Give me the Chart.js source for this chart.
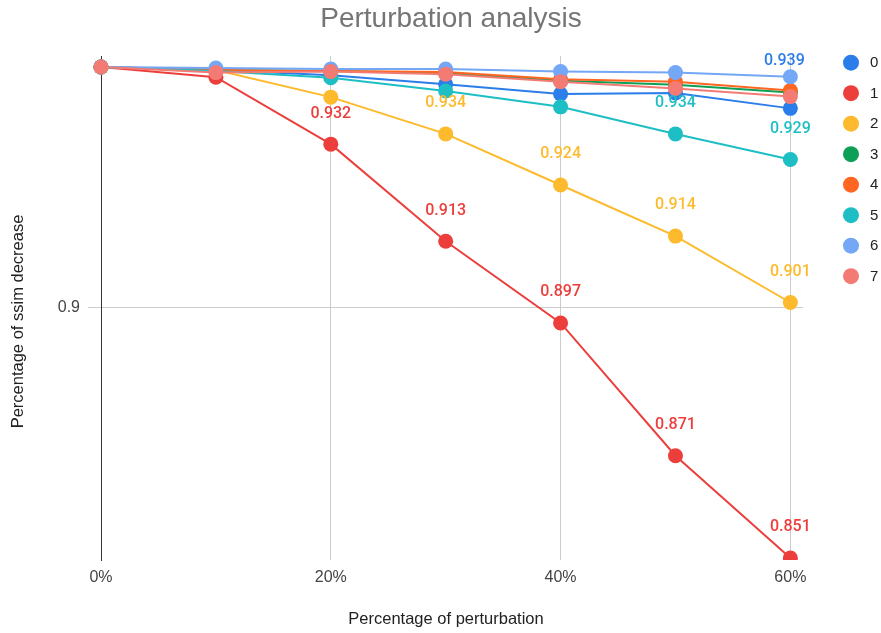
<!DOCTYPE html>
<html>
<head>
<meta charset="utf-8">
<style>
  html, body { margin: 0; padding: 0; background: #ffffff; }
  #wrap { width: 881px; height: 633px; }
</style>
<script src="https://cdn.jsdelivr.net/npm/chart.js@4.4.0/dist/chart.umd.min.js"></script>
</head>
<body>
<div id="wrap"><canvas id="chart" width="881" height="633"></canvas></div>
<script>
// Perturbation levels (fraction of input perturbed)
const perturbation = [0, 0.1, 0.2, 0.3, 0.4, 0.5, 0.6];

// SSIM per model
const seriesNames = ['0', '1', '2', '3', '4', '5', '6', '7'];
const ssim0 = [0.9471, 0.9465, 0.9455, 0.9437, 0.9418, 0.9420, 0.939];
const ssim1 = [0.9471, 0.9451, 0.932, 0.913, 0.897, 0.871, 0.851];
const ssim2 = [0.9471, 0.9465, 0.9412, 0.934, 0.924, 0.914, 0.901];
const ssim3 = [0.9471, 0.9465, 0.9463, 0.9459, 0.9444, 0.9436, 0.9421];
const ssim4 = [0.9471, 0.9465, 0.9463, 0.9461, 0.9447, 0.9442, 0.9425];
const ssim5 = [0.9471, 0.9463, 0.9450, 0.9424, 0.9393, 0.934, 0.929];
const ssim6 = [0.9471, 0.9469, 0.9467, 0.9467, 0.9462, 0.9460, 0.9452];
const ssim7 = [0.9471, 0.9460, 0.9462, 0.9457, 0.9442, 0.9429, 0.9413];
const seriesValues = [ssim0, ssim1, ssim2, ssim3, ssim4, ssim5, ssim6, ssim7];

// Axis ticks
const xTicks = [0, 0.2, 0.4, 0.6];
const yTicks = [0.9];

const colors = ['#2B7DE9', '#EC3F3C', '#FDBA2C', '#0E9F57', '#FF6621', '#1DBEC4', '#74A7F6', '#F47B74'];

// Points that carry a value label (series index -> point indices)
const labelledPoints = { 0: [6], 1: [2, 3, 4, 5, 6], 2: [3, 4, 5, 6], 5: [5, 6] };
// Extra offsets for labels that would collide with neighbouring markers
const labelNudge = { '0:6': { dx: -6, dy: -16.8 } };

const SANS = '"Liberation Sans", Arial, sans-serif';

const datasets = seriesValues.map((vals, i) => ({
  label: seriesNames[i],
  data: vals.map((v, k) => ({ x: perturbation[k], y: v })),
  borderColor: colors[i],
  backgroundColor: colors[i],
  pointBackgroundColor: colors[i],
  pointBorderWidth: 0,
  pointRadius: 7.5,
  pointHoverRadius: 7.5,
  borderWidth: 2,
  tension: 0,
  order: seriesValues.length - 1 - i,
  clip: { left: 12, top: 12, right: 12, bottom: 0 }
}));

const textLayer = {
  id: 'textLayer',
  afterDatasetsDraw(chart) {
    const ctx = chart.ctx;
    ctx.save();
    ctx.font = '500 16px Roboto, sans-serif';
    ctx.textAlign = 'center';
    ctx.textBaseline = 'middle';
    Object.keys(labelledPoints).forEach(key => {
      const ds = Number(key);
      const meta = chart.getDatasetMeta(ds);
      labelledPoints[key].forEach(idx => {
        const el = meta.data[idx];
        const nudge = labelNudge[ds + ':' + idx] || { dx: 0, dy: 0 };
        ctx.fillStyle = colors[ds];
        ctx.fillText(seriesValues[ds][idx].toFixed(3), el.x + nudge.dx, el.y - 30.6 + nudge.dy);
      });
    });
    ctx.restore();
  },
  afterDraw(chart) {
    const ctx = chart.ctx;
    ctx.save();
    ctx.textBaseline = 'middle';

    // Chart title
    ctx.textAlign = 'center';
    ctx.fillStyle = '#757575';
    ctx.font = '28px ' + SANS;
    ctx.fillText('Perturbation analysis', 451, 19);

    // Axis titles
    ctx.fillStyle = '#222222';
    ctx.font = '16.5px ' + SANS;
    ctx.fillText('Percentage of perturbation', 446, 619);
    ctx.save();
    ctx.translate(18.5, 321.5);
    ctx.rotate(-Math.PI / 2);
    ctx.fillText('Percentage of ssim decrease', 0, 0);
    ctx.restore();

    // Legend
    ctx.textAlign = 'left';
    ctx.font = '15px ' + SANS;
    seriesNames.forEach((name, i) => {
      const cy = 62.7 + 30.5 * i;
      ctx.beginPath();
      ctx.arc(851, cy, 8, 0, Math.PI * 2);
      ctx.fillStyle = colors[i];
      ctx.fill();
      ctx.fillStyle = '#222222';
      ctx.fillText(name, 870, cy + 0.5);
    });
    ctx.restore();
  }
};

new Chart(document.getElementById('chart'), {
  type: 'line',
  data: { datasets },
  plugins: [textLayer],
  options: {
    responsive: false,
    animation: false,
    devicePixelRatio: 1,
    events: [],
    layout: { padding: { left: 0, right: 78, top: 56, bottom: 0 } },
    plugins: {
      legend: { display: false },
      title: { display: false },
      tooltip: { enabled: false }
    },
    scales: {
      x: {
        type: 'linear',
        min: 0,
        max: 0.611,
        afterFit(scale) { scale.height = 73; },
        afterBuildTicks(scale) { scale.ticks = xTicks.map(v => ({ value: v })); },
        ticks: {
          callback: v => Math.round(v * 100) + '%',
          font: { family: SANS, size: 16 },
          color: '#444444',
          padding: 8.4,
          maxRotation: 0,
          autoSkip: false
        },
        grid: { color: '#cccccc', drawTicks: false },
        border: { display: false }
      },
      y: {
        type: 'linear',
        min: 0.8506,
        max: 0.94925,
        afterFit(scale) { scale.width = 101; },
        afterBuildTicks(scale) { scale.ticks = yTicks.map(v => ({ value: v })); },
        ticks: {
          callback: v => String(v),
          font: { family: SANS, size: 16 },
          color: '#444444',
          padding: 8
        },
        grid: { color: '#cccccc', tickLength: 13 },
        border: { color: '#333333', width: 1 }
      }
    }
  }
});
</script>
</body>
</html>
